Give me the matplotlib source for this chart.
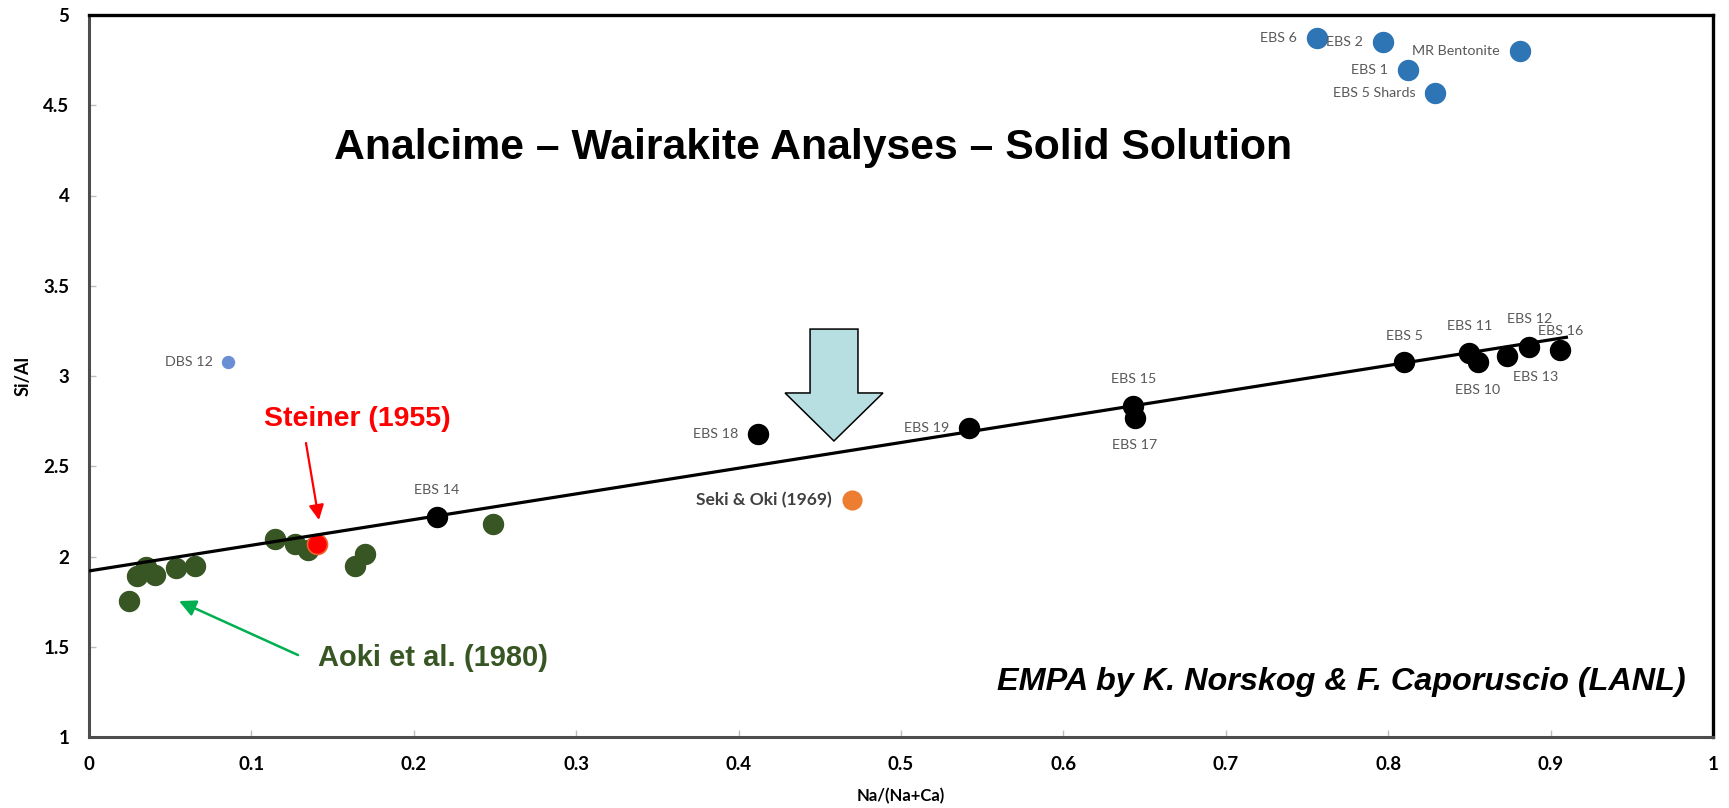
import matplotlib
matplotlib.use("Agg")
import matplotlib.pyplot as plt
from matplotlib.patches import Polygon

# ---- data ---------------------------------------------------------------
# LANL EBS samples (upper cluster)
ebs_high_names = ["EBS 6", "EBS 2", "MR Bentonite", "EBS 1", "EBS 5 Shards"]
ebs_high_x = [0.756, 0.797, 0.881, 0.812, 0.829]
ebs_high_y = [4.873, 4.850, 4.800, 4.695, 4.568]

# LANL EBS samples on the solid-solution trend
ebs_names = ["EBS 14", "EBS 18", "EBS 19", "EBS 15", "EBS 17", "EBS 5",
             "EBS 11", "EBS 10", "EBS 13", "EBS 12", "EBS 16"]
ebs_x = [0.214, 0.412, 0.542, 0.643, 0.644, 0.810,
         0.850, 0.855, 0.873, 0.887, 0.906]
ebs_y = [2.219, 2.679, 2.712, 2.834, 2.767, 3.078,
         3.127, 3.078, 3.111, 3.161, 3.144]

dbs_names = ["DBS 12"]
dbs_x = [0.0856]
dbs_y = [3.078]

# Aoki et al. (1980)
aoki_x = [0.0246, 0.0296, 0.035, 0.0408, 0.0537, 0.0653,
          0.1145, 0.127, 0.1347, 0.1638, 0.170, 0.249]
aoki_y = [1.753, 1.892, 1.942, 1.898, 1.936, 1.947,
          2.097, 2.069, 2.036, 1.947, 2.014, 2.180]

# Steiner (1955)
steiner_x = [0.1404]
steiner_y = [2.069]

# Seki & Oki (1969)
seki_names = ["Seki & Oki (1969)"]
seki_x = [0.470]
seki_y = [2.313]

# linear trend Si/Al = a + b * Na/(Na+Ca)
trend_intercept = 1.92
trend_slope = 1.423
trend_xmax = 0.9107

x_ticks = [0, 0.1, 0.2, 0.3, 0.4, 0.5, 0.6, 0.7, 0.8, 0.9, 1]
x_tick_labels = ["0", "0.1", "0.2", "0.3", "0.4", "0.5", "0.6", "0.7", "0.8", "0.9", "1"]
y_ticks = [1, 1.5, 2, 2.5, 3, 3.5, 4, 4.5, 5]
y_tick_labels = ["1", "1.5", "2", "2.5", "3", "3.5", "4", "4.5", "5"]

# ---- figure -------------------------------------------------------------
W, H, DPI = 1729, 808, 100
fig = plt.figure(figsize=(W / DPI, H / DPI), dpi=DPI)
ax = fig.add_axes([89 / W, 1 - 737 / H, (1713 - 89) / W, (737 - 15) / H])
ax.set_xlim(0, 1)
ax.set_ylim(1, 5)

PX = 72 / DPI  # pixels -> points

BLUE = "#2e75b6"
GREEN = "#375623"
LABEL_GREY = "#595959"
MS = 14.4  # marker diameter in points

# trend line
tx = [0, trend_xmax]
ty = [trend_intercept, trend_intercept + trend_slope * trend_xmax]
ax.plot(tx, ty, color="black", lw=2.3, zorder=3, solid_capstyle="butt")

ax.plot(aoki_x, aoki_y, "o", ms=MS, color=GREEN, mec=GREEN, zorder=2)
ax.plot(steiner_x, steiner_y, "o", ms=MS, color="#ff0000", mec="#f0602a",
        mew=1.2, zorder=2.5)
ax.plot(ebs_x, ebs_y, "o", ms=MS, color="black", zorder=4)
ax.plot(ebs_high_x, ebs_high_y, "o", ms=MS, color=BLUE, mec=BLUE, zorder=4)
ax.plot(dbs_x, dbs_y, "o", ms=8.6, color="#6b8fd4", mec="#6b8fd4", zorder=4)
ax.plot(seki_x, seki_y, "o", ms=13.5, color="#ed7d31", mec="#ed7d31", zorder=4)


def label(name, x, y, dx, dy, ha, va="center", **kw):
    kw.setdefault("color", LABEL_GREY)
    kw.setdefault("fontsize", 10.3)
    kw.setdefault("family", "Lato")
    ax.annotate(name, (x, y), xytext=(dx * PX, dy * PX),
                textcoords="offset points", ha=ha, va=va, zorder=5, **kw)


for n, x, y in zip(ebs_high_names, ebs_high_x, ebs_high_y):
    label(n, x, y, -20, 0, "right")

ebs_offsets = {
    "EBS 14": (0, 27, "center"), "EBS 18": (-20, 0, "right"),
    "EBS 19": (-20, 0, "right"), "EBS 15": (0, 27, "center"),
    "EBS 17": (0, -27, "center"), "EBS 5": (0, 26, "center"),
    "EBS 11": (0, 27, "center"), "EBS 10": (0, -28, "center"),
    "EBS 13": (29, -21, "center"), "EBS 12": (0, 28, "center"),
    "EBS 16": (0, 19, "center"),
}
for n, x, y in zip(ebs_names, ebs_x, ebs_y):
    dx, dy, ha = ebs_offsets[n]
    label(n, x, y, dx, dy, ha)

for n, x, y in zip(dbs_names, dbs_x, dbs_y):
    label(n, x, y, -15, 0, "right")

for n, x, y in zip(seki_names, seki_x, seki_y):
    label(n, x, y, -21, 0, "right", color="#404040", fontsize=12.5,
          fontweight="bold")

# block arrow pointing at the trend
arrow_xy = [(0.444, 3.260), (0.4735, 3.260), (0.4735, 2.906), (0.4889, 2.906),
            (0.4587, 2.640), (0.4286, 2.906), (0.444, 2.906)]
ax.add_patch(Polygon(arrow_xy, closed=True, facecolor="#b7dfe2",
                     edgecolor="black", lw=1.1, zorder=3.5))

# annotation texts and pointers
ax.text(0.446, 4.202, "Analcime \u2013 Wairakite Analyses \u2013 Solid Solution",
        ha="center", va="baseline", fontsize=30.8, fontweight="bold",
        family="Liberation Sans", color="black")

ax.text(0.1653, 2.723, "Steiner (1955)", ha="center", va="baseline",
        fontsize=20.5, fontweight="bold", family="Liberation Sans",
        color="#ff0000")
ax.annotate("", xy=(0.1416, 2.202), xytext=(0.1336, 2.629),
            arrowprops=dict(arrowstyle="-|>,head_length=0.9,head_width=0.45",
                            color="#ff0000", lw=1.6, shrinkA=0, shrinkB=0),
            zorder=5)

ax.text(0.141, 1.393, "Aoki et al. (1980)", ha="left", va="baseline",
        fontsize=21, fontweight="bold", family="Liberation Sans",
        color=GREEN)
ax.annotate("", xy=(0.0554, 1.753), xytext=(0.1287, 1.454),
            arrowprops=dict(arrowstyle="-|>,head_length=1.0,head_width=0.5",
                            color="#00b050", lw=1.8, shrinkA=0, shrinkB=0),
            zorder=5)

ax.text(0.983, 1.260, "EMPA by K. Norskog & F. Caporuscio (LANL)",
        ha="right", va="baseline", fontsize=23.3, fontweight="bold",
        fontstyle="italic", family="Liberation Sans", color="black")

# ---- axes styling -------------------------------------------------------
ax.set_xticks(x_ticks)
ax.set_xticklabels(x_tick_labels)
ax.set_yticks(y_ticks)
ax.set_yticklabels(y_tick_labels)
ax.tick_params(axis="both", direction="in", length=5, width=1,
               color="#bfbfbf", labelsize=13.5, labelcolor="black")
ax.tick_params(axis="x", pad=14)
ax.tick_params(axis="y", pad=14)
for lab in ax.get_xticklabels() + ax.get_yticklabels():
    lab.set_family("Lato")
    lab.set_fontweight("bold")

for side in ("top", "right"):
    ax.spines[side].set_color("black")
    ax.spines[side].set_linewidth(2.4)
for side in ("left", "bottom"):
    ax.spines[side].set_color("#4d4d4d")
    ax.spines[side].set_linewidth(2.2)

ax.set_xlabel("Na/(Na+Ca)", fontsize=12, fontweight="bold", family="Lato",
              va="center")
ax.xaxis.set_label_coords(0.5, (737 - 796) / (737 - 15))
ax.set_ylabel("Si/Al", fontsize=13, fontweight="bold", family="Lato",
              va="center")
ax.yaxis.set_label_coords((23 - 89) / (1713 - 89), 0.5)

fig.savefig("out.png", dpi=DPI)
